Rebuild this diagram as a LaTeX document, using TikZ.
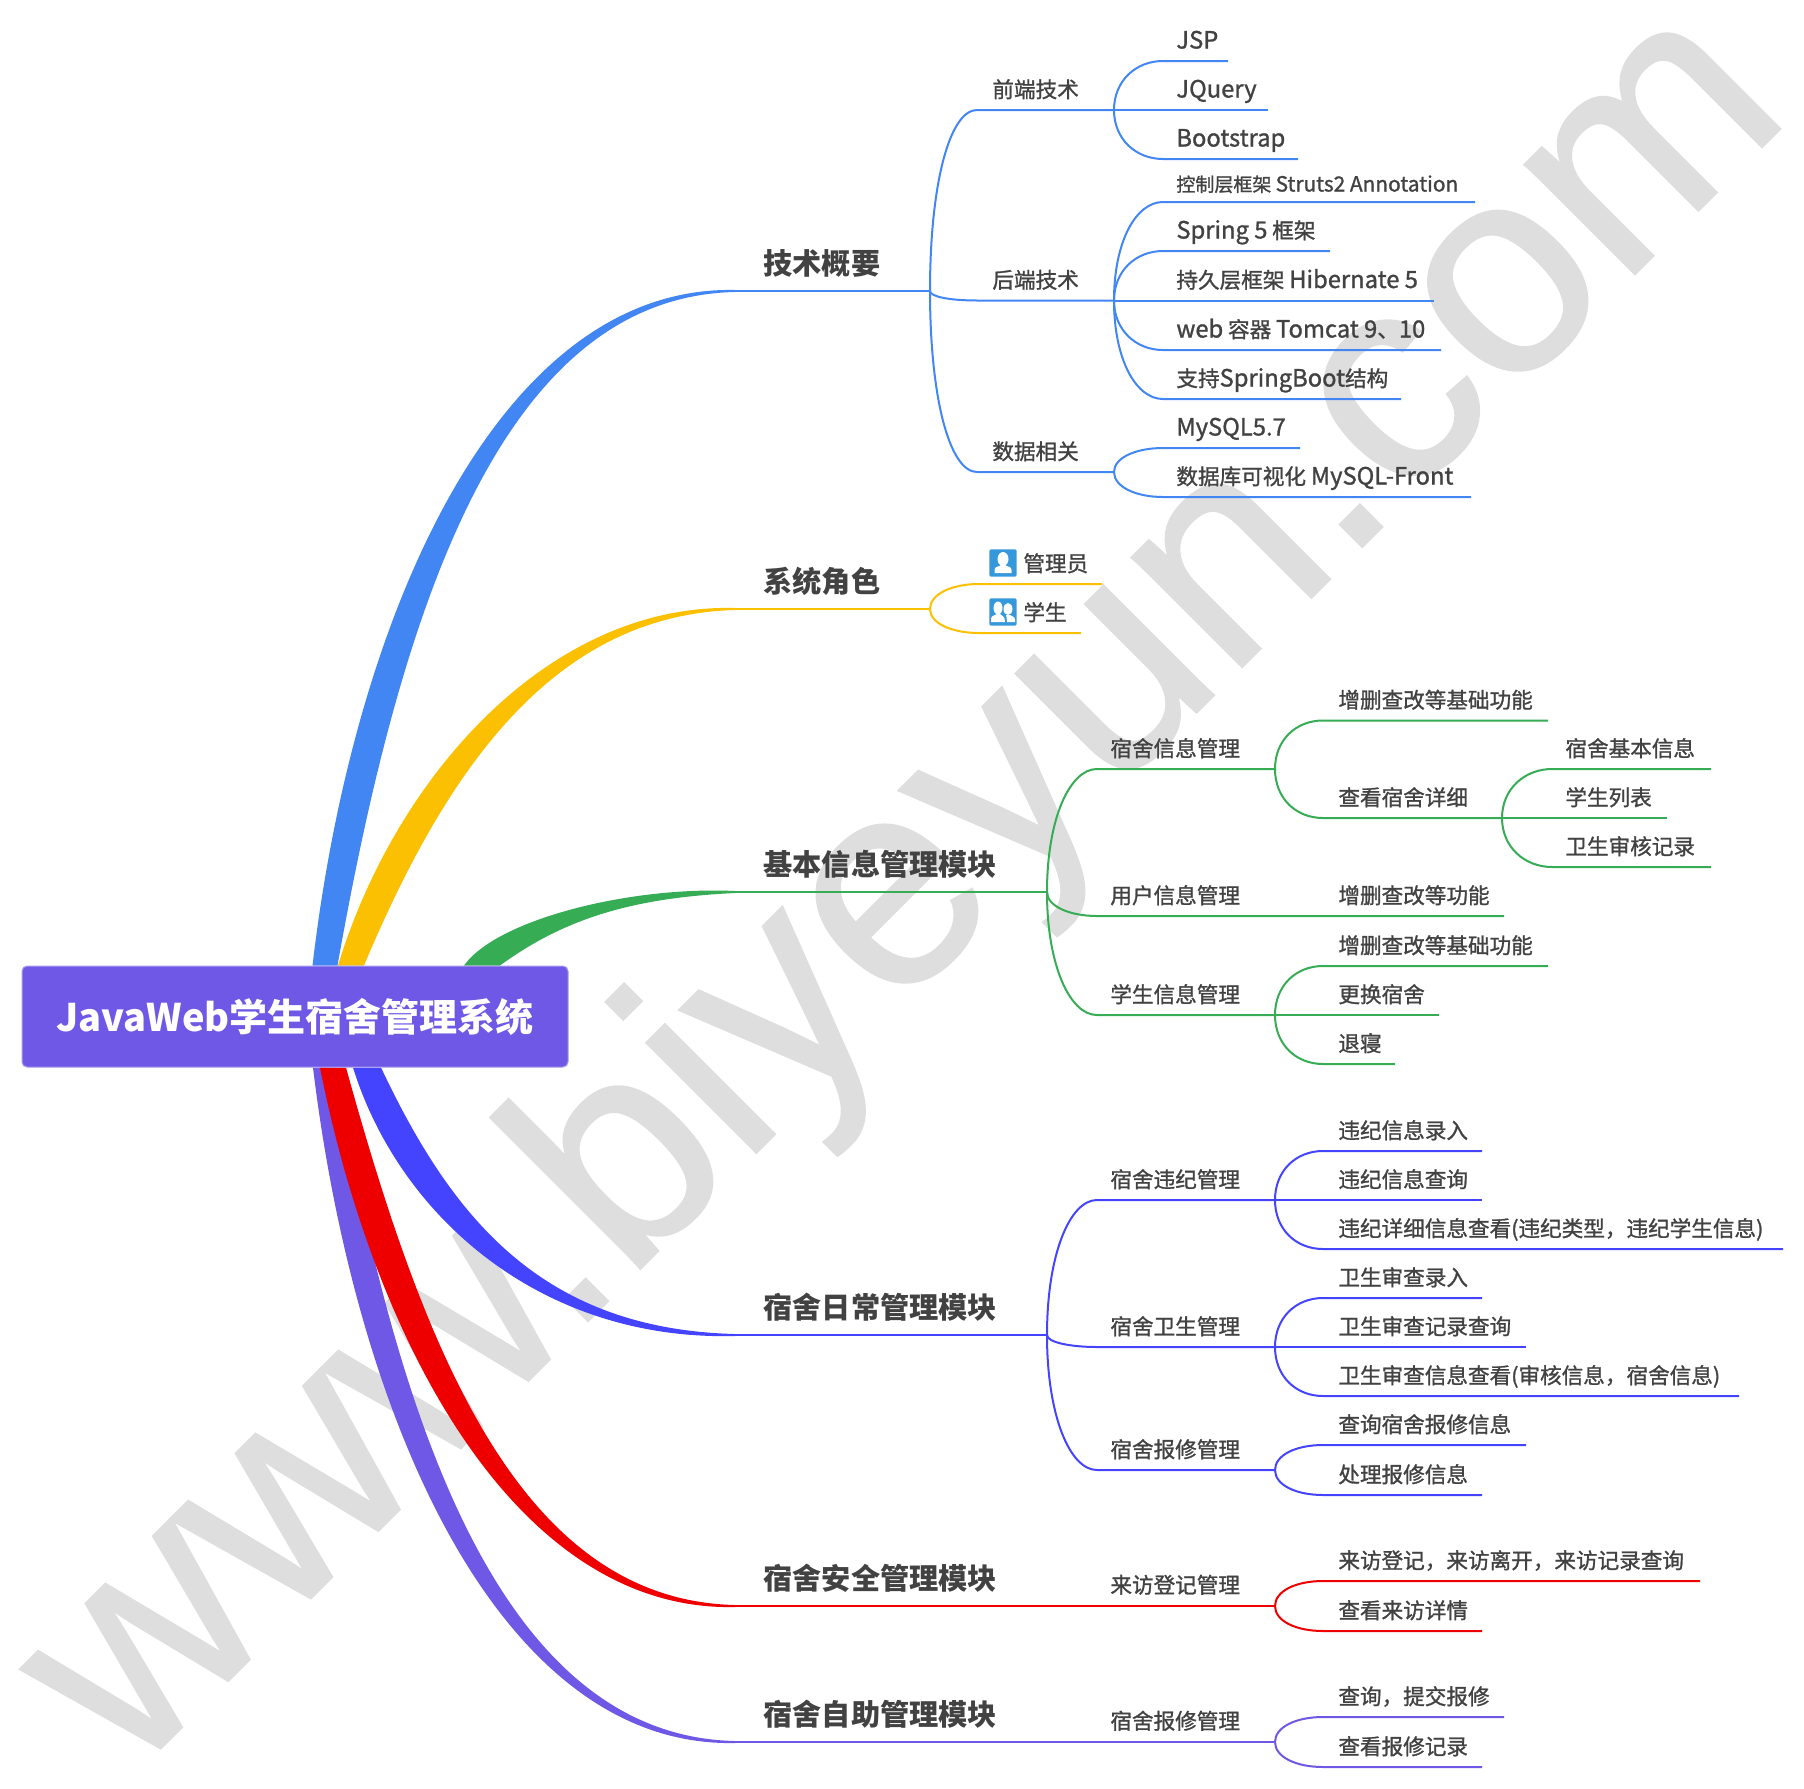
\documentclass[tikz,border=0pt]{standalone}
\usepackage{fontspec}
\setmainfont{Noto Sans CJK SC}
\newfontfamily\leaffont[FakeBold=1.2]{Noto Sans CJK SC}
\newfontfamily\latfont[FakeBold=1.2,Scale=1.1]{Noto Sans CJK SC}
\newfontfamily\markfont[FakeBold=0.8]{Liberation Sans}
\newcommand{\lat}[1]{{\latfont #1}}
\usetikzlibrary{calc,backgrounds}
\definecolor{mapblue}{HTML}{4286F4}
\definecolor{mapyellow}{HTML}{FBC002}
\definecolor{mapgreen}{HTML}{36AC55}
\definecolor{mapindigo}{HTML}{4444FF}
\definecolor{mapred}{HTML}{EE0000}
\definecolor{mappurple}{HTML}{6E58E5}
\definecolor{rootedge}{HTML}{A79BF0}
\definecolor{labelgray}{HTML}{424242}
\definecolor{markgray}{HTML}{DEDEDE}
\definecolor{iconblue}{HTML}{3498DB}
\tikzset{
  wire/.style={line width=1pt},
  rootbox/.style={fill=mappurple, draw=rootedge, line width=0.5pt, rounded corners=2.5pt, minimum width=273pt, minimum height=50.5pt, text=white, inner sep=0pt, font=\bfseries\fontsize{19}{23}\selectfont},
  topictext/.style={anchor=base west, inner sep=0pt, text=labelgray, font=\bfseries\fontsize{14.6}{18}\selectfont},
  leaftext/.style={anchor=base west, inner sep=0pt, text=labelgray, font=\leaffont\fontsize{10.8}{13}\selectfont},
  iconbox/.style={fill=iconblue, rounded corners=1pt, minimum size=13.7pt, inner sep=0pt}
}
% name, y, end x, text
\newcommand{\topic}[4]{
  \coordinate (#1-s) at (735,#2);
  \coordinate (#1-e) at (#3,#2);
  \draw[wire] (#1-s) -- (#1-e);
  \node[topictext] (#1) at (763,#2-17) {#4};
}
% [text offset] junction, name, start x, y, end x, text
\newcommand{\twig}[6][14]{
  \coordinate (#3-s) at (#4,#5);
  \coordinate (#3-e) at (#6,#5);
  \draw[wire] let \p1=(#2),\p2=(#3-s) in (#2) .. controls (\x1,{\y1+0.6*(\y2-\y1)}) and ([xshift=-13.5pt]#3-s) .. (#3-s) -- (#3-e);
}
% colour, root anchor, side, xshift, half width, c1 dx, c1 dy, c2 dx, topic
\newcommand{\trunk}[9]{
  \begin{scope}[on background layer]
    \fill[#1] ([xshift={(#4-#5)*0.5pt}]root.#2) .. controls +({#6-0.85*#5},#7) and +(#8,{#3*5}) .. ([yshift={#3*(-0.5pt)}]#9-s)
      -- ([yshift={#3*0.5pt}]#9-s) .. controls +(#8,{#3*(-5)}) and +({#6+0.85*#5},#7) .. ([xshift={(#4+#5)*0.5pt}]root.#2) -- cycle;
  \end{scope}
}
\begin{document}
\begin{tikzpicture}[x=0.5pt,y=-0.5pt]
  \useasboundingbox (0,0) rectangle (1804,1788);
  \begin{scope}[on background layer]
    \node[rotate=45, anchor=base west, inner sep=0pt, text=markgray, font=\markfont\fontsize{147}{147}\selectfont] (watermark) at (130,1779) {www.biyeyun.com};
  \end{scope}

  \node[rootbox] (root) at (295,1016.5) {\raisebox{-0.5pt}{JavaWeb学生宿舍管理系统}};

  % tech
  \begin{scope}[mapblue]
    \topic{tech}{291}{930}{技术概要}
    \foreach \nm/\yy/\xe/\txt in {front/110/1114/前端技术, back/300.5/1114/后端技术, data/472/1114/数据相关} {
      \twig{tech-e}{\nm}{977}{\yy}{\xe}{}
      \node[leaftext] (\nm) at (992,\yy-12.5) {\txt};
    }
    \foreach \jn/\nm/\yy/\xe/\txt in {front-e/jsp/61/1228/\lat{JSP}, front-e/jquery/110/1268/\lat{JQuery}, front-e/boot/159/1298/\lat{Bootstrap},
        back-e/struts/202/1475/{\fontsize{9.5}{12}\selectfont\raisebox{-1pt}{控制层框架 \lat{Struts2 Annotation}}}, back-e/spring/251/1330/\lat{Spring 5} 框架, back-e/hiber/300.5/1434/持久层框架 \lat{Hibernate 5},
        back-e/tomcat/350/1441/\lat{web} 容器 \lat{Tomcat 9}、\lat{10}, back-e/sboot/399/1401/支持\lat{SpringBoot}结构,
        data-e/mysql/448/1300/\lat{MySQL5.7}, data-e/front/497/1471/数据库可视化 \lat{MySQL-Front}} {
      \twig{\jn}{\nm}{1163}{\yy}{\xe}{}
      \node[leaftext] (\nm-t) at (1176,\yy-12.5) {\txt};
    }
  \end{scope}
  \trunk{mapblue}{north}{-1}{30}{12.5}{52}{-353}{-235}{tech}

  % roles
  \begin{scope}[mapyellow]
    \topic{role}{609}{930}{系统角色}
    \foreach \nm/\yy/\xe/\txt in {admin/584/1102/管理员, student/633/1081/学生} {
      \twig{role-e}{\nm}{979}{\yy}{\xe}{}
      \node[leaftext] (\nm-t) at (1023,\yy-12.5) {\txt};
      \node[iconbox] (\nm-icon) at (1003,\yy-21) {};
    }
  \end{scope}
  \fill[white,shift={(admin-icon.center)}] (0,-4) ellipse (5.5 and 7) (-8.5,10) -- (-8.5,7) .. controls (-8.5,3) and (-4,4) .. (-2,2) -- (2,2) .. controls (4,4) and (8.5,3) .. (8.5,7) -- (8.5,10) -- cycle;
  \fill[white,shift={(student-icon.center)}] (-5,-4) ellipse (4.5 and 6.5) (5,-3) ellipse (4.5 and 6) (-12,10) -- (-12,7) .. controls (-12,3) and (-8,4) .. (-6,2) -- (-3,2) .. controls (-1,4) and (2,4) .. (2,10) -- cycle (4,10) .. controls (4,6) and (3,4) .. (3,3) -- (7,3) .. controls (9,5) and (12,4) .. (12,8) -- (12,10) -- cycle;
  \trunk{mapyellow}{north}{-1}{56}{13}{69}{-190}{-185}{role}

  % basic info
  \begin{scope}[mapgreen]
    \topic{basic}{892}{1047}{基本信息管理模块}
    \foreach \nm/\yy/\xe/\txt in {info/769/1275/宿舍信息管理, user/916/1504/用户信息管理, stu/1015/1275/学生信息管理} {
      \twig{basic-e}{\nm}{1097}{\yy}{\xe}{}
      \node[leaftext] (\nm) at (1110,\yy-12.5) {\txt};
    }
    \node[leaftext] (useredit) at (1338,903.5) {增删查改等功能};
    \foreach \jn/\nm/\yy/\xe/\txt in {info-e/infoedit/720.5/1548/增删查改等基础功能, info-e/detail/818/1502/查看宿舍详细,
        stu-e/stuedit/966/1548/增删查改等基础功能, stu-e/swap/1015/1439/更换宿舍, stu-e/leave/1064/1395/退寝} {
      \twig{\jn}{\nm}{1323}{\yy}{\xe}{}
      \node[leaftext] (\nm-t) at (1338,\yy-12.5) {\txt};
    }
    \foreach \nm/\yy/\xe/\txt in {room/769/1711/宿舍基本信息, list/818/1667/学生列表, audit/867/1711/卫生审核记录} {
      \twig{detail-e}{\nm}{1552}{\yy}{\xe}{}
      \node[leaftext] (\nm-t) at (1565,\yy-12.5) {\txt};
    }
  \end{scope}
  \trunk{mapgreen}{north}{-1}{187}{18}{48}{-46}{-105}{basic}

  % daily
  \begin{scope}[mapindigo]
    \topic{daily}{1335}{1047}{宿舍日常管理模块}
    \foreach \nm/\yy/\xe/\txt in {viol/1200/1275/宿舍违纪管理, hyg/1347/1275/宿舍卫生管理, rep/1470/1275/宿舍报修管理} {
      \twig{daily-e}{\nm}{1097}{\yy}{\xe}{}
      \node[leaftext] (\nm) at (1110,\yy-12.5) {\txt};
    }
    \foreach \jn/\nm/\yy/\xe/\txt in {viol-e/vin/1151/1482/违纪信息录入, viol-e/vq/1200/1482/违纪信息查询, viol-e/vd/1249/1783/违纪详细信息查看(违纪类型，违纪学生信息),
        hyg-e/hin/1298/1482/卫生审查录入, hyg-e/hq/1347/1526/卫生审查记录查询, hyg-e/hd/1396/1739/卫生审查信息查看(审核信息，宿舍信息),
        rep-e/rq/1445/1526/查询宿舍报修信息, rep-e/rd/1495/1482/处理报修信息} {
      \twig{\jn}{\nm}{1323}{\yy}{\xe}{}
      \node[leaftext] (\nm-t) at (1338,\yy-12.5) {\txt};
    }
  \end{scope}
  \trunk{mapindigo}{south}{1}{72}{14}{58}{148}{-195}{daily}

  % self service, drawn under the red one
  \begin{scope}[mappurple]
    \topic{self}{1742}{1275}{宿舍自助管理模块}
    \node[leaftext] (selfrep) at (1110,1729) {宿舍报修管理};
    \foreach \nm/\yy/\xe/\txt in {sq/1717/1504/查询，提交报修, sd/1767/1482/查看报修记录} {
      \twig{self-e}{\nm}{1323}{\yy}{\xe}{}
      \node[leaftext] (\nm-t) at (1338,\yy-12.5) {\txt};
    }
  \end{scope}
  \trunk{mappurple}{south}{1}{29}{11}{52}{353}{-235}{self}

  % safety
  \begin{scope}[mapred]
    \topic{safe}{1606}{1275}{宿舍安全管理模块}
    \node[leaftext] (visit) at (1110,1593) {来访登记管理};
    \foreach \nm/\yy/\xe/\txt in {vreg/1581/1700/来访登记，来访离开，来访记录查询, vsee/1631/1482/查看来访详情} {
      \twig{safe-e}{\nm}{1323}{\yy}{\xe}{}
      \node[leaftext] (\nm-t) at (1338,\yy-12.5) {\txt};
    }
  \end{scope}
  \trunk{mapred}{south}{1}{38}{13}{67}{282}{-215}{safe}
\end{tikzpicture}
\end{document}
